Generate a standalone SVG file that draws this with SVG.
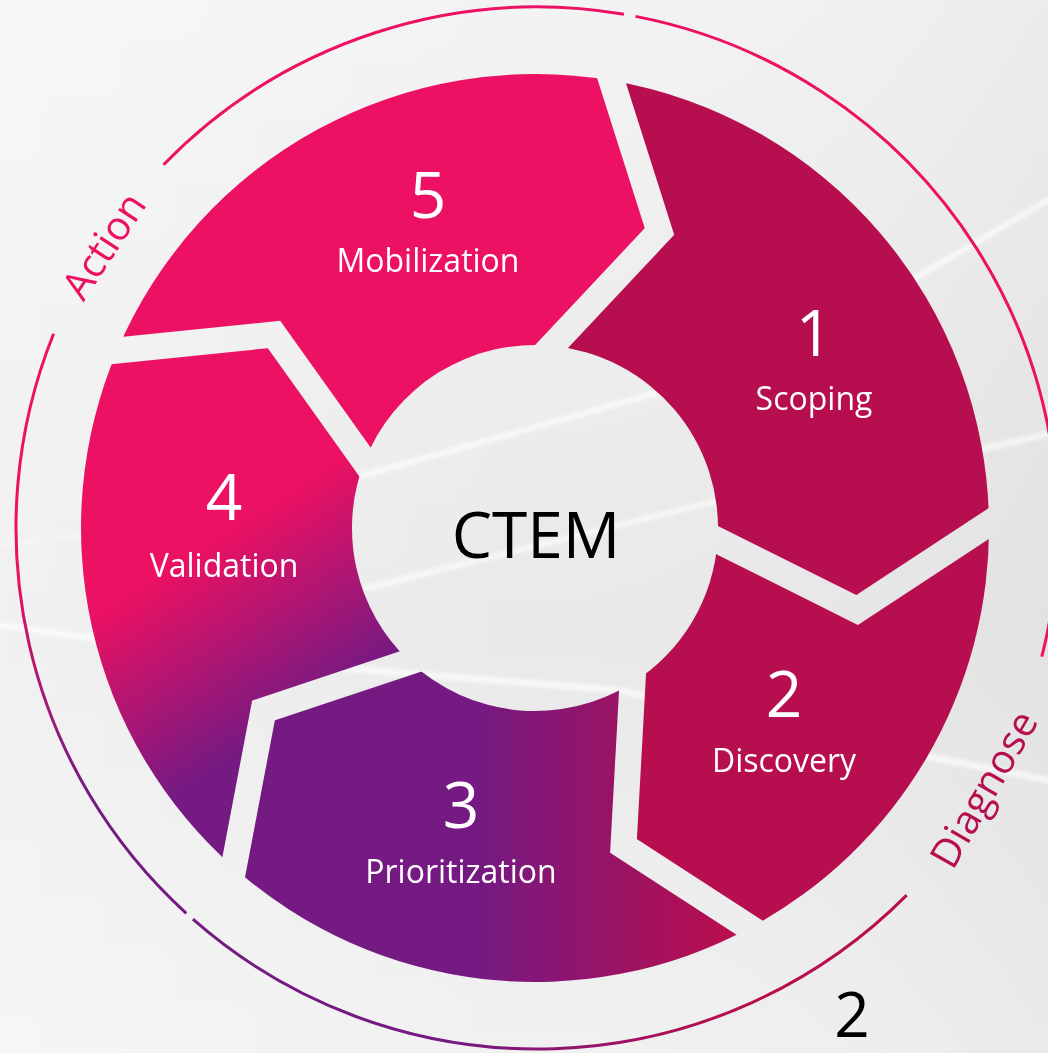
<svg xmlns="http://www.w3.org/2000/svg" width="1048" height="1053" viewBox="0 0 1048 1053">
  <style>
    text { font-family: "Open Sans", "Liberation Sans", sans-serif; text-anchor: middle; }
    .num { font-size: 64px; fill: #ffffff; }
    .lbl { font-size: 32px; fill: #ffffff; }
    .hub { font-size: 64px; fill: #000000; }
    .page { font-size: 62px; fill: #000000; }
    .phase { font-size: 40px; }
    .arc { fill: none; stroke-width: 3; stroke-linecap: butt; }
    .streak { fill: none; stroke: #ffffff; stroke-linejoin: round; stroke-linecap: round; }
  </style>
  <defs>
    <linearGradient id="bg" x1="0" y1="0" x2="0" y2="1">
      <stop offset="0" stop-color="#F3F3F3"/>
      <stop offset="0.4" stop-color="#ECECEC"/>
      <stop offset="0.6" stop-color="#E9E9E9"/>
      <stop offset="1" stop-color="#F1F1F1"/>
    </linearGradient>
    <linearGradient id="bgSide" x1="0" y1="0" x2="1" y2="0">
      <stop offset="0" stop-color="#FFFFFF" stop-opacity="0.35"/>
      <stop offset="0.5" stop-color="#FFFFFF" stop-opacity="0"/>
      <stop offset="1" stop-color="#000000" stop-opacity="0.03"/>
    </linearGradient>
    <filter id="soft" filterUnits="userSpaceOnUse" x="0" y="0" width="1048" height="1053">
      <feGaussianBlur stdDeviation="2.2"/>
    </filter>
    <!-- segment fills -->
    <linearGradient id="g3" gradientUnits="userSpaceOnUse" x1="480" y1="0" x2="720" y2="0">
      <stop offset="0" stop-color="#751A82"/>
      <stop offset="1" stop-color="#B60E4E"/>
    </linearGradient>
    <linearGradient id="g4" gradientUnits="userSpaceOnUse" x1="180" y1="560" x2="285" y2="725">
      <stop offset="0" stop-color="#EC1162"/>
      <stop offset="1" stop-color="#751A82"/>
    </linearGradient>
    <!-- outer ring strokes -->
    <linearGradient id="arcBottom" gradientUnits="userSpaceOnUse" x1="460" y1="0" x2="720" y2="0">
      <stop offset="0" stop-color="#751A82"/>
      <stop offset="1" stop-color="#B60E4E"/>
    </linearGradient>
    <linearGradient id="arcLeft" gradientUnits="userSpaceOnUse" x1="0" y1="570" x2="0" y2="790">
      <stop offset="0" stop-color="#EC1162"/>
      <stop offset="1" stop-color="#751A82"/>
    </linearGradient>
    <!-- cuts between the ring segments -->
    <mask id="gaps" maskUnits="userSpaceOnUse" x="0" y="0" width="1048" height="1053">
      <rect x="0" y="0" width="1048" height="1053" fill="#ffffff"/>
      <g fill="none" stroke="#000000" stroke-width="26" stroke-linejoin="miter" stroke-miterlimit="8">
        <polyline points="605.4,61.4 659.5,231.5 538.3,360.6"/>
        <polyline points="1007.2,511.5 857,610 700.1,531.6"/>
        <polyline points="768.3,939.9 623.5,846 633.6,663"/>
        <polyline points="229.8,887.6 263.5,710.5 428,655.7"/>
        <polyline points="97.6,352.5 274,334.5 376.6,478.3"/>
      </g>
    </mask>
  </defs>

  <!-- backdrop -->
  <rect x="0" y="0" width="1048" height="1053" fill="url(#bg)"/>
  <rect x="0" y="0" width="1048" height="1053" fill="url(#bgSide)"/>
  <g filter="url(#soft)">
    <polyline class="streak" stroke-width="5" opacity="0.8" points="340,482 720,375 917,277 1048,200"/>
    <polyline class="streak" stroke-width="5" opacity="0.75" points="350,592 720,500 956,455 1048,434"/>
    <polyline class="streak" stroke-width="6" opacity="0.75" points="0,625 120,642 340,668 617,690 930,757 1048,780"/>
    <polyline class="streak" stroke-width="3" opacity="0.5" points="0,545 90,535"/>
  </g>

  <!-- outer ring -->
  <g id="outer-arcs">
    <path class="arc" stroke="#EC1162" d="M163.5,164.8 A521,521 0 0 1 623.9,14.3"/>
    <path class="arc" stroke="#EC1162" d="M635.5,16.4 A521,521 0 0 1 1041.8,656.7"/>
    <path class="arc" stroke="url(#arcBottom)" d="M906.7,895.1 A521,521 0 0 1 192.9,919.2"/>
    <path class="arc" stroke="url(#arcLeft)" d="M186.3,913.3 A521,521 0 0 1 53.6,333.7"/>
  </g>

  <g id="phase-action">
    <text class="phase" fill="#EC1162" x="0" y="0" dy="0.36em" transform="translate(103.5,245.5) rotate(-56.8)">Action</text>
  </g>
  <g id="phase-diagnose">
    <text class="phase" fill="#B60E4E" x="0" y="0" dy="0.36em" transform="translate(983.5,789) rotate(-60.1)">Diagnose</text>
  </g>

  <!-- cycle steps -->
  <g id="step-5">
    <path fill="#EC1162" mask="url(#gaps)" d="M117.2,350.4 A454,454 0 0 1 611.5,80.5 L659.5,231.5 L552,345.8 A183,183 0 0 0 364.4,461.8 L274,334.5 Z"/>
    <text class="num" x="428" y="218">5</text>
    <text class="lbl" x="428" y="272">Mobilization</text>
  </g>
  <g id="step-1">
    <path fill="#B60E4E" mask="url(#gaps)" d="M611.5,80.5 A454,454 0 0 1 989,522.5 L857,610 L717.6,540.5 A183,183 0 0 0 552,345.8 L659.5,231.5 Z"/>
    <text class="num" x="814" y="356">1</text>
    <text class="lbl" x="814" y="410">Scoping</text>
  </g>
  <g id="step-2">
    <path fill="#B60E4E" mask="url(#gaps)" d="M989,522.5 A454,454 0 0 1 750.7,927.5 L623.5,846 L632.4,682.9 A183,183 0 0 0 717.6,540.5 L857,610 Z"/>
    <text class="num" x="784" y="717">2</text>
    <text class="lbl" x="784" y="772">Discovery</text>
  </g>
  <g id="step-3">
    <path fill="url(#g3)" mask="url(#gaps)" d="M750.7,927.5 A454,454 0 0 1 233.8,867.7 L263.5,710.5 L409.7,661.4 A183,183 0 0 0 632.4,682.9 L623.5,846 Z"/>
    <text class="num" x="461" y="828">3</text>
    <text class="lbl" x="461" y="883">Prioritization</text>
  </g>
  <g id="step-4">
    <path fill="url(#g4)" mask="url(#gaps)" d="M233.8,867.7 A454,454 0 0 1 117.2,350.4 L274,334.5 L364.4,461.8 A183,183 0 0 0 409.7,661.4 L263.5,710.5 Z"/>
    <text class="num" x="224" y="520">4</text>
    <text class="lbl" x="224" y="577">Validation</text>
  </g>

  <g id="hub">
    <text class="hub" x="536" y="558">CTEM</text>
  </g>

  <text class="page" x="852" y="1037">2</text>
</svg>
